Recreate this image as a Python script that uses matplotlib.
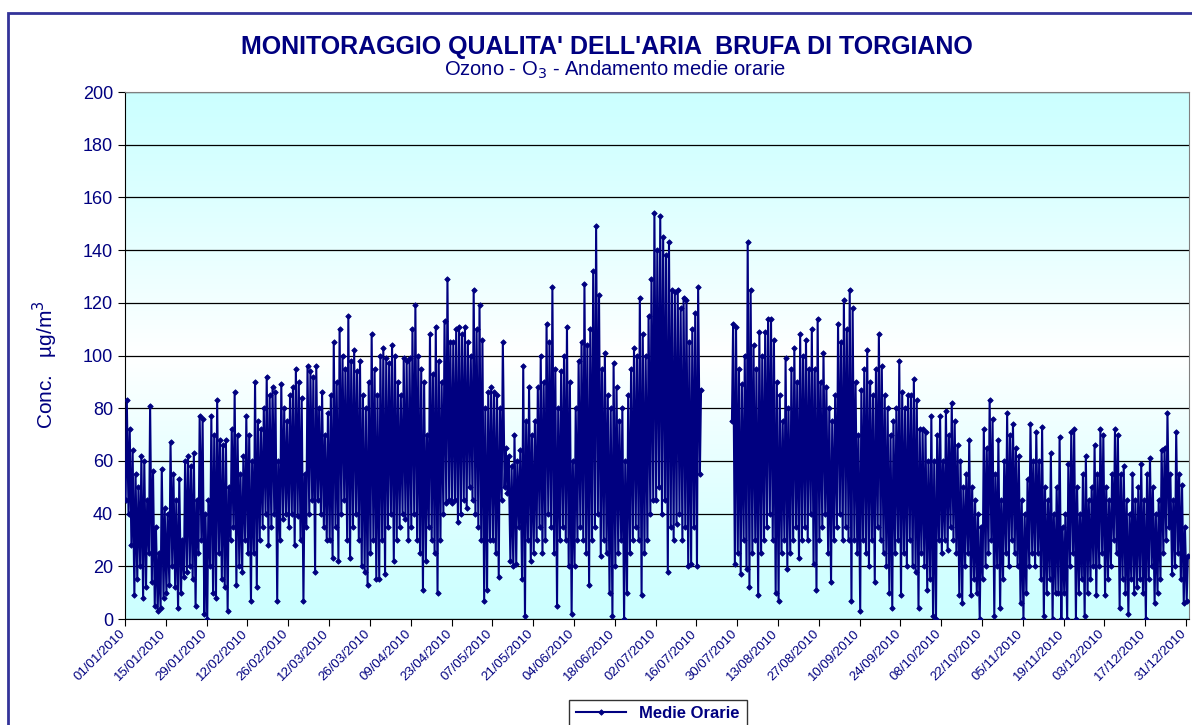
import datetime as dt
import numpy as np
import matplotlib
matplotlib.use("Agg")
import matplotlib.pyplot as plt
import matplotlib.transforms as mtransforms
from matplotlib.patches import Rectangle

plt.rcParams['font.family'] = ['Liberation Sans', 'DejaVu Sans']

# ozone, hourly means 2010 - daily max / min (ug/m3)
# None = no data (17/07 - 27/07)
daily_max = (
    [83, 72, 64, 55, 50, 62, 60, 45, 81, 56, 35, 25, 57, 42]
    + [40, 67, 55, 45, 53, 30, 60, 62, 58, 63, 45, 77, 76, 40]
    + [45, 77, 70, 83, 68, 66, 68, 50, 72, 86, 70, 55, 62, 77]
    + [70, 60, 90, 75, 72, 80, 92, 85, 88, 86, 60, 89, 80, 75]
    + [85, 88, 95, 90, 84, 55, 96, 94, 92, 96, 80, 86, 70, 78]
    + [85, 105, 90, 110, 100, 95, 115, 98, 102, 94, 98, 85, 80, 90]
    + [108, 95, 85, 100, 103, 99, 97, 104, 100, 90, 85, 99, 98, 99]
    + [110, 119, 100, 95, 90, 70, 108, 93, 111, 98, 90, 113, 129, 105]
    + [105, 110, 111, 108, 111, 105, 100, 125, 110, 119, 106, 80, 86, 88]
    + [86, 85, 80, 105, 65, 62, 58, 70, 60, 64, 96, 75, 88, 70]
    + [75, 88, 100, 90, 112, 105, 126, 95, 80, 94, 100, 111, 90, 60]
    + [80, 98, 105, 127, 104, 110, 132, 149, 123, 95, 101, 85, 80, 97]
    + [88, 75, 80, 60, 85, 95, 103, 100, 122, 108, 100, 115, 129, 154]
    + [140, 153, 145, 138, 143, 125, 124, 125, 118, 122, 121, 105, 110, 116, 126, 87]
    + [None] * 10
    + [112, 111, 95, 89, 100, 143, 125, 104, 95, 109, 100, 109, 114, 114]
    + [106, 90, 85, 75, 99, 80, 95, 103, 90, 108, 100, 106, 95, 110]
    + [95, 114, 90, 101, 88, 80, 75, 85, 112, 105, 121, 110, 125, 118]
    + [90, 70, 87, 95, 102, 90, 85, 95, 108, 96, 85, 80, 70, 75]
    + [80, 98, 86, 80, 85, 85, 91, 83, 72, 72, 71, 60, 77, 60]
    + [70, 77, 60, 79, 70, 82, 75, 66, 60, 50, 55, 68, 50, 45]
    + [40, 35, 72, 65, 83, 76, 55, 68, 45, 60, 78, 70, 74, 65]
    + [62, 45, 40, 53, 74, 60, 71, 60, 73, 50, 45, 63, 40, 50]
    + [69, 35, 40, 59, 71, 72, 50, 40, 55, 62, 45, 50, 66, 55]
    + [72, 70, 50, 45, 55, 72, 70, 55, 58, 45, 40, 55, 45, 50]
    + [59, 45, 55, 61, 50, 40, 45, 64, 65, 78, 55, 45, 71, 55, 51, 35, 24]
)
daily_min = (
    [45, 40, 28, 9, 15, 20, 8, 12, 25, 14, 5, 3, 4, 8]
    + [10, 13, 20, 12, 4, 10, 16, 18, 20, 15, 5, 25, 30, 2]
    + [0, 20, 10, 8, 25, 15, 12, 3, 30, 35, 13, 20, 18, 30]
    + [25, 7, 25, 12, 30, 35, 40, 28, 35, 40, 7, 30, 38, 40]
    + [35, 40, 28, 39, 30, 7, 35, 40, 45, 18, 45, 40, 35, 30]
    + [30, 23, 35, 22, 40, 45, 30, 23, 35, 40, 30, 20, 18, 13]
    + [25, 30, 15, 15, 30, 17, 35, 40, 22, 30, 35, 40, 38, 30]
    + [35, 40, 30, 25, 11, 22, 35, 30, 25, 10, 30, 40, 44, 45]
    + [44, 45, 37, 40, 45, 42, 50, 45, 40, 35, 30, 7, 11, 30]
    + [30, 25, 16, 45, 50, 48, 22, 20, 21, 35, 15, 1, 30, 22]
    + [25, 30, 35, 25, 30, 40, 35, 25, 5, 30, 35, 30, 20, 2]
    + [20, 30, 35, 30, 25, 13, 30, 35, 40, 24, 30, 25, 10, 1]
    + [20, 25, 30, 0, 10, 25, 30, 35, 30, 9, 25, 30, 40, 45]
    + [45, 50, 40, 45, 18, 35, 30, 36, 40, 30, 35, 20, 21, 35, 20, 55]
    + [None] * 10
    + [75, 21, 25, 17, 30, 19, 12, 25, 30, 9, 25, 30, 35, 40]
    + [30, 10, 7, 25, 30, 19, 25, 30, 35, 23, 30, 35, 30, 40]
    + [21, 11, 30, 35, 40, 25, 14, 30, 35, 40, 30, 35, 30, 7]
    + [30, 25, 3, 30, 25, 20, 30, 14, 35, 30, 25, 20, 10, 4]
    + [25, 30, 9, 25, 20, 30, 20, 18, 4, 25, 20, 11, 15, 1]
    + [0, 30, 25, 30, 26, 35, 30, 25, 9, 6, 20, 25, 9, 15]
    + [10, 0, 15, 20, 25, 30, 1, 20, 4, 15, 25, 20, 30, 25]
    + [20, 6, 0, 10, 20, 25, 20, 25, 15, 1, 10, 15, 0, 10]
    + [10, 0, 10, 0, 20, 25, 0, 10, 15, 1, 10, 15, 20, 9]
    + [20, 25, 9, 15, 20, 30, 25, 4, 15, 10, 2, 15, 10, 12]
    + [15, 10, 0, 15, 20, 6, 10, 15, 25, 30, 35, 17, 20, 25, 15, 6, 7]
)

start = dt.date(2010, 1, 1)
navy = '#000080'

# two points a day: morning low then afternoon high
t, conc = [], []
for d in range(len(daily_max)):
    lo, hi = daily_min[d], daily_max[d]
    t += [d + 0.2, d + 0.6]
    if lo is None:
        conc += [np.nan, np.nan]
    else:
        conc += [lo, hi]

fig = plt.figure(figsize=(11.92, 7.25), dpi=100)
ax = fig.add_axes([0.1049, 0.1462, 0.8926, 0.7269])

# cyan -> white -> cyan background of the plot area
cyan = np.array([0.80, 1.0, 1.0])
white = np.array([1.0, 1.0, 1.0])
h = np.linspace(0, 1, 300)
w = np.clip(1 - np.abs(h - 0.5) / 0.5, 0, 1) ** 1.2
grad = cyan[None, :] * (1 - w[:, None]) + white[None, :] * w[:, None]
ax.imshow(grad[:, None, :], extent=[0, 1, 0, 1], transform=ax.transAxes,
          aspect='auto', origin='lower', zorder=0)

ax.plot(t, conc, color=navy, lw=1.5, marker='D', ms=2.8, mew=0.6,
        label='Medie Orarie', zorder=3)

ax.set_xlim(0, 365)
ax.set_ylim(0, 200)
ax.set_yticks(range(0, 201, 20))
ax.yaxis.grid(True, color='black', lw=0.9)
ax.set_axisbelow(True)

# date labels every 14 days, drawn a little left of their ticks
ticks = list(range(0, 365, 14))
ax.set_xticks(ticks)
ax.set_xticklabels([])
lab_tr = ax.get_xaxis_transform() + mtransforms.ScaledTranslation(-6 / 100, -9 / 100, fig.dpi_scale_trans)
for k in ticks:
    ax.text(k, 0, (start + dt.timedelta(days=k)).strftime('%d/%m/%Y'), transform=lab_tr,
            rotation=45, ha='right', va='top', rotation_mode='anchor',
            fontsize=9.5, color=navy, clip_on=False)

for lab in ax.get_yticklabels():
    lab.set_color(navy)
    lab.set_fontsize(13)
ax.tick_params(axis='both', direction='out', length=5, color='black')

for s in ['top', 'right']:
    ax.spines[s].set_color('#808080')
for s in ['left', 'bottom']:
    ax.spines[s].set_color('black')

ax.set_ylabel('Conc.   \u00b5g/m$^3$', color=navy, fontsize=15)
ax.yaxis.set_label_coords(-0.061, 0.482)

fig.text(0.509, 0.935, "MONITORAGGIO QUALITA' DELL'ARIA  BRUFA DI TORGIANO",
         ha='center', va='center', fontsize=18, fontweight='bold', color=navy)
fig.text(0.516, 0.904, 'Ozono - O$_3$ - Andamento medie orarie',
         ha='center', va='center', fontsize=14.5, color=navy)

leg = fig.legend(loc='upper center', bbox_to_anchor=(0.552, 0.035), frameon=True,
                 fancybox=False, edgecolor='black', prop={'weight': 'bold', 'size': 12},
                 handlelength=3, borderaxespad=0)
for txt in leg.get_texts():
    txt.set_color(navy)

# outer border of the chart
fig.patches.append(Rectangle((8 / 1192, -0.1), 1.2, 1.1 - 13 / 725,
                             transform=fig.transFigure, fill=False,
                             edgecolor='#333399', lw=2))

fig.savefig('out.png', dpi=100)
